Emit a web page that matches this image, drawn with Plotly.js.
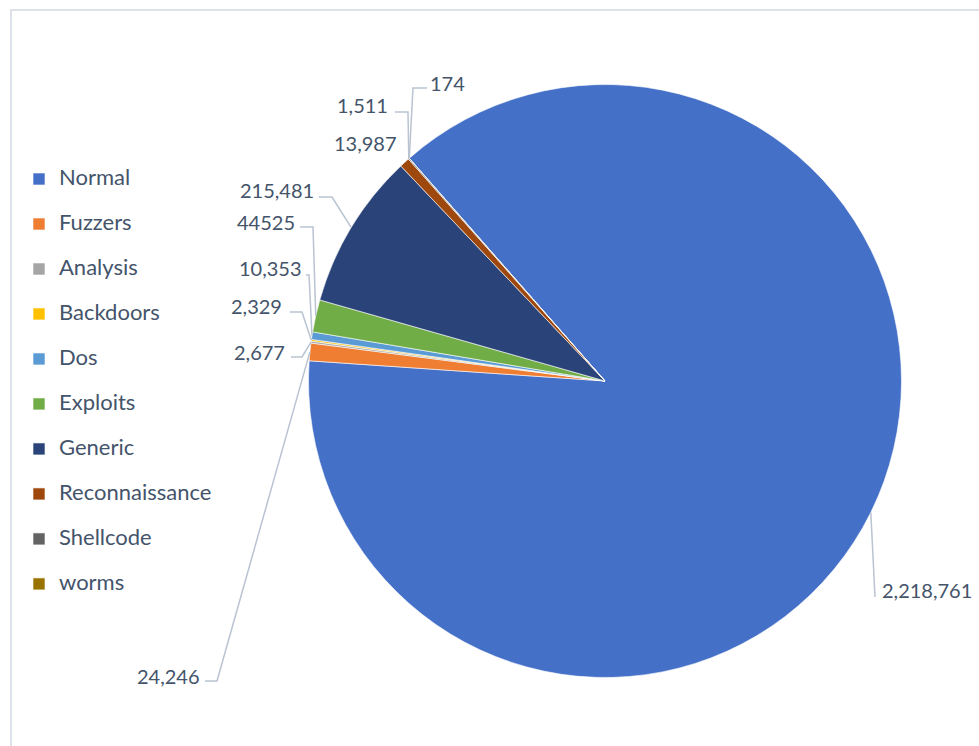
<!DOCTYPE html>
<html><head><meta charset="utf-8">
<script src="https://cdn.plot.ly/plotly-3.0.1.min.js"></script>
<style>html,body{margin:0;padding:0;background:#fff}#chart{width:979px;height:746px}</style>
</head><body><div id="chart"></div>
<script>
// ---- data ----
const categories = ['Normal','Fuzzers','Analysis','Backdoors','Dos','Exploits','Generic','Reconnaissance','Shellcode','worms'];
const counts = [2218761, 24246, 2677, 2329, 10353, 44525, 215481, 13987, 1511, 174];
const countLabels = ['2,218,761','24,246','2,677','2,329','10,353','44525','215,481','13,987','1,511','174'];

// ---- styles / layout ----
const sliceColors = ['#4470c7','#ef7d32','#a5a5a5','#ffc000','#5b9bd5','#70ad47','#2a4479','#9e480e','#636363','#997300'];
const W = 979, H = 746;
const cx = 605, cy = 381, R = 296.5;
const rotation = -41.3;
const FONT = 'Lato, "Open Sans", sans-serif';
const TXT = '#44546a';
const LINE = '#b9c3d2';
// label anchor positions in pixels: [x, y, xanchor]
const labelPos = [
  [880, 590, 'left'], [202, 676, 'right'], [287, 352, 'right'], [284, 306, 'right'],
  [304, 268, 'right'], [297, 222, 'right'], [316, 190, 'right'], [399, 143, 'right'],
  [390, 105, 'right'], [428, 83, 'left']
];
// leader line horizontal part [x1, y1, x2, y2] in pixels (null = no leader)
const leaderSeg = [
  [875, 597, 875, 597], [205, 681, 217, 681], [291, 357, 302, 357], [290, 312, 302, 312],
  [306, 275, 309, 275], [300, 227, 313, 227], [319, 197, 332, 197], null,
  [395, 112, 408, 112], [427, 88, 413, 88]
];

const X = x => x / W;
const Y = y => 1 - y / H;

const total = counts.reduce((a, b) => a + b, 0);
let cum = 0;
const midAngles = counts.map(v => { const m = rotation + (cum + v / 2) / total * 360; cum += v; return m; });
const edgePts = midAngles.map(a => {
  const r = a * Math.PI / 180;
  return [cx + R * Math.sin(r), cy - R * Math.cos(r)];
});

const annotations = countLabels.map((t, i) => ({
  text: t, xref: 'paper', yref: 'paper', x: X(labelPos[i][0]), y: Y(labelPos[i][1]),
  xanchor: labelPos[i][2], yanchor: 'middle', showarrow: false,
  font: {family: FONT, size: 20, color: TXT}
}));

const shapes = [];
leaderSeg.forEach((s, i) => {
  if (!s) return;
  const e = edgePts[i];
  shapes.push({
    type: 'path', xref: 'paper', yref: 'paper',
    path: `M ${X(s[0])},${Y(s[1])} L ${X(s[2])},${Y(s[3])} L ${X(e[0])},${Y(e[1])}`,
    line: {color: LINE, width: 1.5}
  });
});
// chart area border
shapes.push({type: 'rect', xref: 'paper', yref: 'paper', x0: X(11), x1: 1.05, y0: -0.05, y1: Y(10),
  line: {color: '#dde2ea', width: 2}, layer: 'below'});

const trace = {
  type: 'pie',
  labels: categories.map(c => `<span style="font-size:22px">${c}</span><br>\u00a0`),
  values: counts,
  sort: false,
  direction: 'clockwise',
  rotation: rotation,
  textinfo: 'none',
  hoverinfo: 'value+percent',
  marker: {colors: sliceColors, line: {color: '#ffffff', width: 0.6}},
  domain: {x: [X(cx - R), X(cx + R)], y: [Y(cy + R), Y(cy - R)]}
};

const layout = {
  width: W, height: H,
  margin: {l: 0, r: 0, t: 0, b: 0},
  paper_bgcolor: '#ffffff',
  showlegend: true,
  legend: {x: X(19), y: Y(162), xanchor: 'left', yanchor: 'top', traceorder: 'normal', valign: 'top',
    font: {family: FONT, size: 16.15, color: TXT}, bgcolor: 'rgba(0,0,0,0)'},
  annotations: annotations,
  shapes: shapes,
  font: {family: FONT, color: TXT}
};

Plotly.newPlot('chart', [trace], layout, {displayModeBar: false});
</script>
</body></html>
